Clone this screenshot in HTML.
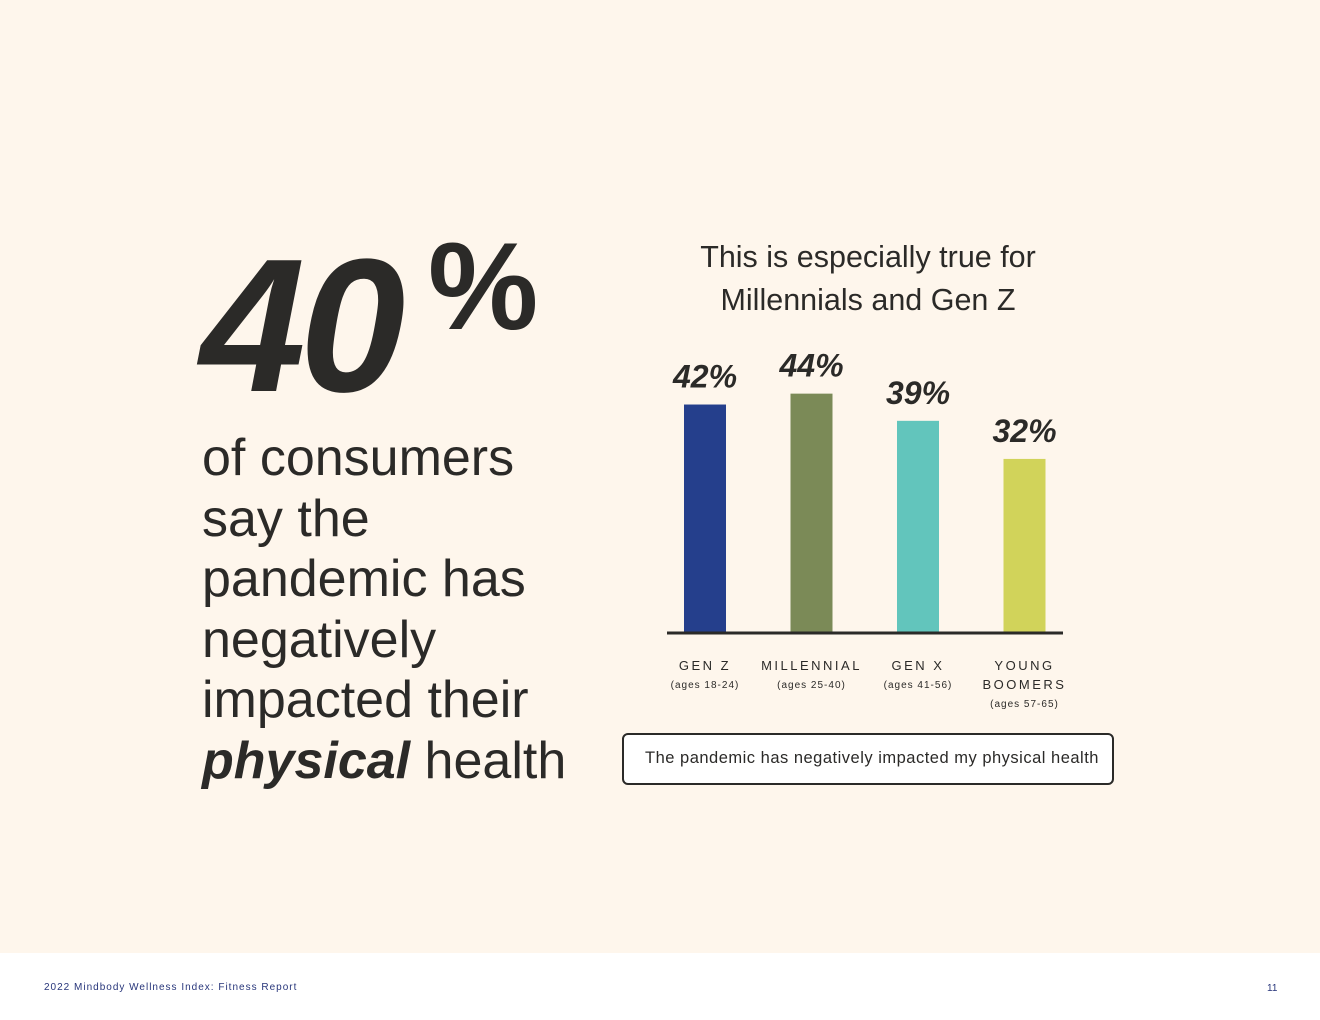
<!DOCTYPE html>
<html><head><meta charset="utf-8">
<style>
body{margin:0;width:1320px;height:1020px;background:#fff;font-family:"Liberation Sans",sans-serif;position:relative;overflow:hidden}
#bg{position:absolute;left:0;top:0;width:1320px;height:953px;background:#fef6ec}
.t{position:absolute;color:#2b2a28;white-space:nowrap}
</style></head><body>
<div id="bg"></div>
<div class="t" style="left:200px;top:226px;font-size:190px;font-weight:bold;font-style:italic;letter-spacing:-6px;line-height:200px">40</div>
<div class="t" style="left:428px;top:222px;font-size:124px;font-weight:bold;line-height:130px">%</div>
<div class="t" style="left:202px;top:428px;font-size:52px;line-height:60.5px">of consumers<br>say the<br>pandemic has<br>negatively<br>impacted their<br><b><i>physical</i></b> health</div>
<div class="t" style="left:648px;top:236px;width:440px;text-align:center;font-size:30.5px;line-height:43px;white-space:normal">This is especially true for Millennials and Gen Z</div>
<svg id="chart" width="1320" height="953" style="position:absolute;left:0;top:0"></svg>
<div style="position:absolute;left:622px;top:733px;width:488px;height:48px;border:2px solid #2b2a28;border-radius:6px;background:#fff;box-sizing:content-box"></div>
<div class="t" style="left:645px;top:749px;font-size:16.5px;letter-spacing:0.5px">The pandemic has negatively impacted my physical health</div>
<div class="t" style="left:44px;top:982px;font-size:10px;color:#27357a;letter-spacing:1px">2022 Mindbody Wellness Index: Fitness Report</div>
<div class="t" style="left:1267px;top:983px;font-size:10px;color:#27357a">11</div>
<script>
const categories=["GEN Z","MILLENNIAL","GEN X","YOUNG BOOMERS"];
const ages=["(ages 18-24)","(ages 25-40)","(ages 41-56)","(ages 57-65)"];
const values=[42,44,39,32];
const colors=["#253f8c","#7b8a57","#62c5bc","#d1d35a"];
const svg=document.getElementById('chart');
const NS='http://www.w3.org/2000/svg';
const base=633,scale=5.44;
function y(v){return base-v*scale;}
function cx(i){return 705+i*106.5;}
const bw=42;
values.forEach((v,i)=>{
 const r=document.createElementNS(NS,'rect');
 r.setAttribute('x',cx(i)-bw/2);r.setAttribute('y',y(v));
 r.setAttribute('width',bw);r.setAttribute('height',base-y(v));
 r.setAttribute('fill',colors[i]);
 
 
 svg.appendChild(r);
 const t=document.createElementNS(NS,'text');
 t.setAttribute('x',cx(i));t.setAttribute('y',y(v)-17);
 t.setAttribute('text-anchor','middle');t.setAttribute('font-size','32');
 t.setAttribute('font-weight','bold');t.setAttribute('font-style','italic');
 t.setAttribute('fill','#2b2a28');t.setAttribute('font-family','Liberation Sans');
 t.textContent=v+'%';
 
 
 svg.appendChild(t);
 const words=categories[i]==="YOUNG BOOMERS"?["YOUNG","BOOMERS"]:[categories[i]];
 words.forEach((w,j)=>{
  const c=document.createElementNS(NS,'text');
  c.setAttribute('x',cx(i));c.setAttribute('y',670+j*19);
  c.setAttribute('text-anchor','middle');c.setAttribute('font-size','13');
  c.setAttribute('letter-spacing','2.5');c.setAttribute('fill','#2b2a28');
  c.setAttribute('font-family','Liberation Sans');
  c.textContent=w;
  
  
  svg.appendChild(c);
 });
 const a=document.createElementNS(NS,'text');
 a.setAttribute('x',cx(i));a.setAttribute('y',688+(words.length-1)*19);
 a.setAttribute('text-anchor','middle');a.setAttribute('font-size','10');
 a.setAttribute('letter-spacing','1');a.setAttribute('fill','#2b2a28');
 a.setAttribute('font-family','Liberation Sans');
 a.textContent=ages[i];
 
 
 svg.appendChild(a);
});
const ax=document.createElementNS(NS,'line');
ax.setAttribute('x1',667);ax.setAttribute('x2',1063);ax.setAttribute('y1',base);ax.setAttribute('y2',base);
ax.setAttribute('stroke','#2b2a28');ax.setAttribute('stroke-width','3');


svg.appendChild(ax);
</script>
</body></html>
